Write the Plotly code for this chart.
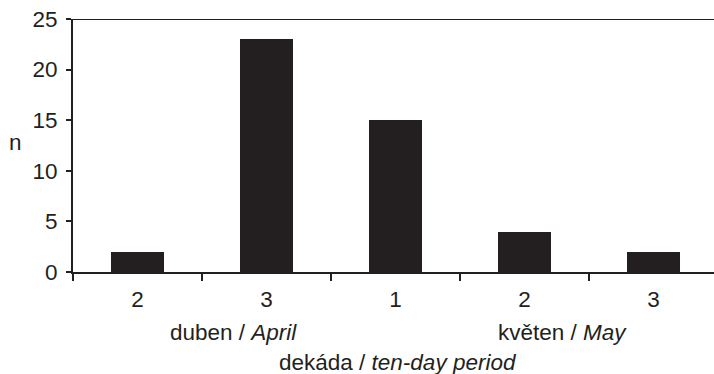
import plotly.graph_objects as go

# Ten-day periods (dekády) of April and May and their counts
decade_labels = ["2", "3", "1", "2", "3"]
counts = [2, 23, 15, 4, 2]
month_labels = ["duben / <i>April</i>", "květen / <i>May</i>"]
y_ticks = [0, 5, 10, 15, 20, 25]

INK = "#231f20"
FONT = "Liberation Sans, Arial, Helvetica, sans-serif"
FS = 22.5

W, H = 714, 374
L, R, T, B = 73, 0, 19, 102
plot_w = W - L - R
plot_h = H - T - B


def px_x(px):
    return (px - L) / plot_w


def px_y(py):
    return (H - B - py) / plot_h


positions = list(range(len(counts)))

fig = go.Figure()
fig.add_trace(go.Bar(
    x=positions,
    y=counts,
    width=0.41,
    marker=dict(color=INK, line=dict(width=0)),
    showlegend=False,
))

fig.update_layout(
    width=W,
    height=H,
    margin=dict(l=L, r=R, t=T, b=B, pad=0),
    paper_bgcolor="white",
    plot_bgcolor="white",
    font=dict(family=FONT, size=FS, color=INK),
    bargap=0,
)

fig.update_xaxes(
    range=[-0.5, 4.47],
    tickvals=positions,
    ticktext=decade_labels,
    ticks="",
    ticklabelstandoff=6,
    showgrid=False,
    zeroline=False,
    showline=True,
    linecolor=INK,
    linewidth=2,
    minor=dict(
        tickvals=[p - 0.5 for p in positions],
        ticks="outside",
        ticklen=7,
        tickwidth=2,
        tickcolor=INK,
        showgrid=False,
    ),
    tickfont=dict(size=FS, color=INK),
)

fig.update_yaxes(
    range=[0, 25],
    tickvals=y_ticks,
    ticks="outside",
    ticklen=5,
    tickwidth=2,
    tickcolor=INK,
    ticklabelstandoff=4,
    showgrid=False,
    zeroline=False,
    showline=True,
    linecolor=INK,
    linewidth=2,
    tickfont=dict(size=FS, color=INK),
)

# top frame line at the axis maximum
fig.add_shape(
    type="line", xref="paper", yref="y",
    x0=px_x(68), x1=1, y0=25, y1=25,
    line=dict(color=INK, width=2),
)

# month labels below the decade numbers
for text, cx in zip(month_labels, [233.5, 562.5]):
    fig.add_annotation(
        text=text, xref="paper", yref="paper",
        x=px_x(cx), y=px_y(332), xanchor="center", yanchor="middle",
        showarrow=False, font=dict(size=FS, color=INK),
    )

# axis titles
fig.add_annotation(
    text="dekáda / <i>ten-day period</i>", xref="paper", yref="paper",
    x=px_x(398), y=px_y(362), xanchor="center", yanchor="middle",
    showarrow=False, font=dict(size=FS, color=INK),
)
fig.add_annotation(
    text="n", xref="paper", yref="paper",
    x=px_x(15), y=px_y(142), xanchor="center", yanchor="middle",
    showarrow=False, font=dict(size=FS, color=INK),
)

fig.write_html("out.html")
